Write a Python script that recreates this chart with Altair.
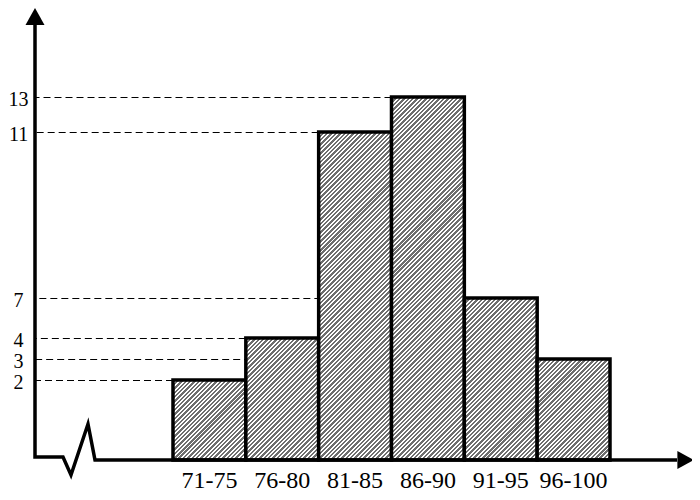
import altair as alt
import pandas as pd

# ---- data ----
categories = ["71-75", "76-80", "81-85", "86-90", "91-95", "96-100"]
counts = [2, 4, 11, 13, 7, 3]
tick_values = [2, 3, 4, 7, 11, 13]

# the drawing is not to scale: piecewise-linear y mapping (value -> pixel)
y_domain = [0, 2, 3, 4, 7, 11, 13]
y_range = [452, 372, 351, 330, 290, 124, 89]

W, H = 655, 452
x_range = [138, 575]
FONT = "Liberation Serif"

df = pd.DataFrame({"score": categories, "count": counts})


def ypix(v):
    for i in range(len(y_domain) - 1):
        a, b = y_domain[i], y_domain[i + 1]
        if a <= v <= b:
            return y_range[i] + (v - a) / (b - a) * (y_range[i + 1] - y_range[i])
    return y_range[-1]


def stripes(w, h, period=4.4, gray="#6e6e6e", frac=0.55):
    n = max(1, round((w + h) / period))
    c = (w + h) / (w * w + h * h)
    stops = []
    for i in range(n):
        a, m, b = i / n, (i + frac) / n, (i + 1) / n
        stops += [
            {"offset": round(a, 5), "color": gray},
            {"offset": round(m, 5), "color": gray},
            {"offset": round(m, 5), "color": "white"},
            {"offset": round(b, 5), "color": "white"},
        ]
    return {"gradient": "linear", "x1": 0, "y1": 0,
            "x2": round(w * c, 5), "y2": round(h * c, 5), "stops": stops}


x_scale = alt.Scale(type="band", domain=categories, range=x_range,
                    paddingInner=0, paddingOuter=0)
x_axis = alt.Axis(title=None, labelAngle=0, domain=False, ticks=False, tickSize=0,
                  grid=False, labelPadding=27, labelBaseline="alphabetic",
                  labelOverlap=False, labelFont=FONT, labelFontSize=24,
                  labelColor="black")
y_scale = alt.Scale(domain=y_domain, range=y_range, nice=False)
y_axis = alt.Axis(title=None, values=tick_values, domain=False, ticks=False, tickSize=0,
                  grid=False, labelAlign="center", labelBaseline="middle",
                  labelOverlap=False, labelPadding=17, labelOffset=2,
                  labelFont=FONT, labelFontSize=20, labelColor="black")

y_enc = alt.Y("count:Q", scale=y_scale, axis=y_axis)

# dashed guide lines from the y axis to each bar's left edge
guides = alt.Chart(df).mark_rule(
    strokeDash=[7, 4], strokeWidth=1, color="black", yOffset=0.5
).encode(
    x=alt.X("score:N", sort=categories, scale=x_scale, axis=x_axis, bandPosition=0),
    x2=alt.value(0),
    y=y_enc,
)

band_w = (x_range[1] - x_range[0]) / len(categories)
bar_layers = []
for cat, val in zip(categories, counts):
    h = ypix(0) - ypix(val)
    bar_layers.append(
        alt.Chart(df).transform_filter(alt.datum.score == cat).mark_bar(
            fill=stripes(band_w, h), stroke="black", strokeWidth=3.5
        ).encode(
            x=alt.X("score:N", sort=categories, scale=x_scale, axis=x_axis),
            y=y_enc,
        )
    )

# axes with the broken-axis zigzag (pixel geometry of the decoration)
axis_pts = pd.DataFrame({
    "i": [0, 1, 2, 3, 4, 5, 6],
    "px": [0, 0, 28, 36, 53, 60, 642],
    "py": [16, 449, 449, 467, 416, 452, 452],
})
axis_line = alt.Chart(axis_pts).mark_line(
    color="black", strokeWidth=3.5, strokeJoin="miter", strokeCap="butt"
).encode(
    x=alt.X("px:Q", scale=None, axis=None),
    y=alt.Y("py:Q", scale=None, axis=None),
    order="i:Q",
)

one = pd.DataFrame({"k": [0]})
arrow_up = alt.Chart(one).mark_point(
    shape="M-1,0.9L0,-0.9L1,0.9Z", size=361, filled=True, fill="black",
    strokeWidth=0, opacity=1
).encode(x=alt.value(0), y=alt.value(8.5))
arrow_right = alt.Chart(one).mark_point(
    shape="M-0.9,-1L0.9,0L-0.9,1Z", size=324, filled=True, fill="black",
    strokeWidth=0, opacity=1
).encode(x=alt.value(650.5), y=alt.value(452))

chart = alt.layer(guides, *bar_layers, axis_line, arrow_up, arrow_right).properties(
    width=W, height=H,
    padding={"left": 27, "top": 0, "right": 2, "bottom": 32},
    autosize=alt.AutoSizeParams(type="none"),
    background="white",
).configure_view(stroke=None)

chart.save("out.html", embed_options={"renderer": "svg", "actions": False})
